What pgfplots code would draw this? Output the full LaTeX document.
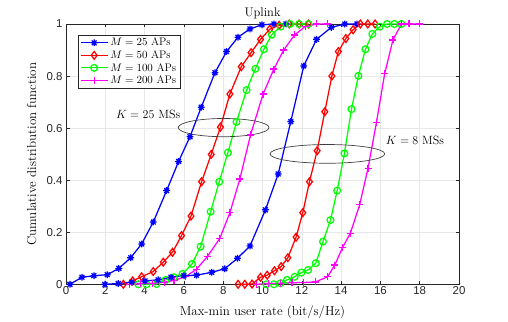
\documentclass[border=0pt]{standalone}
\usepackage{fontspec}
\setsansfont{Liberation Sans}
\usepackage{pgfplots}
\pgfplotsset{compat=1.18}
\definecolor{mlblue}{RGB}{0,0,255}
\definecolor{mlred}{RGB}{255,0,0}
\definecolor{mlgreen}{RGB}{0,255,0}
\definecolor{mlmag}{RGB}{255,0,255}

% MATLAB-style asterisk: + and x together
\pgfdeclareplotmark{mlstar}{%
  \pgfpathmoveto{\pgfqpoint{0pt}{\pgfplotmarksize}}\pgfpathlineto{\pgfqpoint{0pt}{-\pgfplotmarksize}}%
  \pgfpathmoveto{\pgfqpoint{\pgfplotmarksize}{0pt}}\pgfpathlineto{\pgfqpoint{-\pgfplotmarksize}{0pt}}%
  \pgfpathmoveto{\pgfqpoint{0.707\pgfplotmarksize}{0.707\pgfplotmarksize}}\pgfpathlineto{\pgfqpoint{-0.707\pgfplotmarksize}{-0.707\pgfplotmarksize}}%
  \pgfpathmoveto{\pgfqpoint{0.707\pgfplotmarksize}{-0.707\pgfplotmarksize}}\pgfpathlineto{\pgfqpoint{-0.707\pgfplotmarksize}{0.707\pgfplotmarksize}}%
  \pgfusepathqstroke}

\begin{document}
\begin{tikzpicture}
\begin{axis}[
  scale only axis,
  width=393bp, height=260.3bp,
  xmin=0, xmax=20, ymin=0, ymax=1,
  xtick={0,2,...,20},
  ytick={0,0.2,...,1},
  grid=major,
  major grid style={gray!18, line width=0.5bp},
  axis line style={black!85, line width=0.5bp},
  tick style={black!85, line width=0.5bp},
  major tick length=3.5bp,
  /pgf/number format/assume math mode=true,
  tick label style={font=\sffamily\fontsize{11.5}{12}\selectfont, black!85},
  xticklabel style={yshift=1bp},
  title={Uplink},
  every axis title shift=0pt,
  title style={font=\fontsize{12.5}{13}\selectfont, at={(axis description cs:0.5,1)}, anchor=center, yshift=11bp},
  xlabel={Max-min user rate (bit/s/Hz)},
  xlabel style={font=\fontsize{13}{14}\selectfont, at={(axis description cs:0.5,-0.109)}, anchor=center},
  ylabel={Cumulative distribution function},
  ylabel style={font=\fontsize{13}{14}\selectfont, at={(axis description cs:-0.087,0.5)}, anchor=center},
  legend style={at={(0.03,0.958)}, anchor=north west, font=\fontsize{11}{11.5}\selectfont,
    draw=black!85, line width=0.5bp, inner xsep=2bp, inner ysep=1bp, row sep=-0.8bp},
  legend cell align=left,
  legend image code/.code={\draw[mark repeat=2,mark phase=2] plot coordinates {(0bp,0bp)(13.5bp,0bp)(27bp,0bp)};},
  every axis plot/.append style={line width=1.25bp},
]
% K = 25, M = 25
\addplot[mlblue, mark=mlstar, mark size=3.4bp, mark options={solid}] coordinates {
(0.2,0) (0.81,0.027) (1.42,0.033) (2.1,0.037) (2.69,0.061) (3.29,0.102) (3.85,0.155)
(4.44,0.239) (5.12,0.36) (5.73,0.472) (6.31,0.567) (6.88,0.68) (7.58,0.813) (8.17,0.894)
(8.75,0.949) (9.36,0.981) (9.97,0.997) (10.58,1) (11.19,1)};
\addlegendentry{$M=25$ APs}
% K = 25, M = 50
\addplot[mlred, mark=diamond, mark size=3.9bp, mark options={solid}] coordinates {
(2.92,0) (3.39,0.013) (3.85,0.029) (4.44,0.049) (4.95,0.085) (5.42,0.123) (5.88,0.187)
(6.36,0.262) (6.9,0.394) (7.39,0.499) (7.86,0.604) (8.34,0.731) (8.92,0.836) (9.42,0.89)
(9.9,0.941) (10.37,0.98) (10.85,0.995) (11.36,1) (11.86,1) (12.34,1)};
\addlegendentry{$M=50$ APs}
% K = 25, M = 100
\addplot[mlgreen, mark=o, mark size=3.4bp, mark options={solid}] coordinates {
(3.68,0) (4.1,0) (4.61,0.001) (5.07,0.017) (5.49,0.027) (5.93,0.04) (6.41,0.078)
(6.85,0.145) (7.36,0.279) (7.8,0.394) (8.24,0.506) (8.68,0.624) (9.19,0.746) (9.64,0.828)
(10.07,0.903) (10.47,0.959) (10.92,0.99) (11.39,1) (11.86,1) (12.34,1)};
\addlegendentry{$M=100$ APs}
% K = 25, M = 200
\addplot[mlmag, mark=+, mark size=3.5bp, mark options={solid}] coordinates {
(3.22,0) (3.8,0.002) (4.4,0.004) (5.0,0.008) (5.5,0.015) (6.1,0.03) (6.64,0.058)
(7.19,0.106) (7.83,0.177) (8.34,0.275) (8.85,0.405) (9.39,0.574) (10.03,0.731) (10.58,0.827)
(11.08,0.9) (11.63,0.958) (12.17,0.99) (12.75,1) (13.32,1)};
\addlegendentry{$M=200$ APs}
% K = 8, M = 25
\addplot[mlblue, mark=mlstar, mark size=3.4bp, mark options={solid}, forget plot] coordinates {
(1.98,0) (2.66,0.003) (3.34,0.008) (4.02,0.013) (4.69,0.017) (5.34,0.027) (6.0,0.033)
(6.64,0.035) (7.42,0.046) (8.08,0.06) (8.73,0.1) (9.36,0.147) (10.15,0.286) (10.8,0.424)
(11.44,0.625) (12.1,0.839) (12.75,0.941) (13.5,0.987) (14.19,1) (14.81,1)};
% K = 8, M = 50
\addplot[mlred, mark=diamond, mark size=3.9bp, mark options={solid}, forget plot] coordinates {
(8.76,0) (9.1,0) (9.47,0.001) (9.9,0.027) (10.24,0.035) (10.61,0.052) (10.95,0.068)
(11.29,0.102) (11.71,0.181) (12.05,0.275) (12.39,0.394) (12.78,0.513) (13.17,0.663)
(13.53,0.8) (13.86,0.894) (14.24,0.944) (14.61,0.978) (14.98,1) (15.36,1) (15.73,1)};
% K = 8, M = 100
\addplot[mlgreen, mark=o, mark size=3.4bp, mark options={solid}, forget plot] coordinates {
(10.2,0) (10.58,0) (10.92,0.004) (11.25,0.017) (11.64,0.029) (11.98,0.045) (12.32,0.055)
(12.71,0.081) (13.08,0.164) (13.46,0.247) (13.8,0.36) (14.17,0.503) (14.53,0.673)
(14.88,0.801) (15.24,0.903) (15.59,0.962) (15.97,0.99) (16.34,1) (16.71,1) (17.07,1)};
% K = 8, M = 200
\addplot[mlmag, mark=+, mark size=3.5bp, mark options={solid}, forget plot] coordinates {
(9.69,0) (10.3,0.003) (10.9,0.004) (11.5,0.006) (12.1,0.007) (12.7,0.009) (13.31,0.029)
(13.68,0.074) (14.07,0.141) (14.47,0.196) (14.95,0.307) (15.37,0.446) (15.8,0.622)
(16.22,0.81) (16.64,0.939) (17.07,1) (17.46,1) (18.0,1)};

\draw[black!75, line width=0.7bp] (axis cs:8.02,0.602) ellipse [x radius=2.31, y radius=0.035];
\draw[black!75, line width=0.7bp] (axis cs:13.3,0.501) ellipse [x radius=2.92, y radius=0.036];
\node[anchor=west, inner sep=0pt, font=\fontsize{12}{13}\selectfont] at (axis cs:2.54,0.653) {$K=25$ MSs};
\node[anchor=west, inner sep=0pt, font=\fontsize{12}{13}\selectfont] at (axis cs:16.27,0.552) {$K=8$ MSs};
\end{axis}
\pgfresetboundingbox
\path (-66bp,-37.7bp) rectangle (442bp,284.3bp);
\end{tikzpicture}
\end{document}
